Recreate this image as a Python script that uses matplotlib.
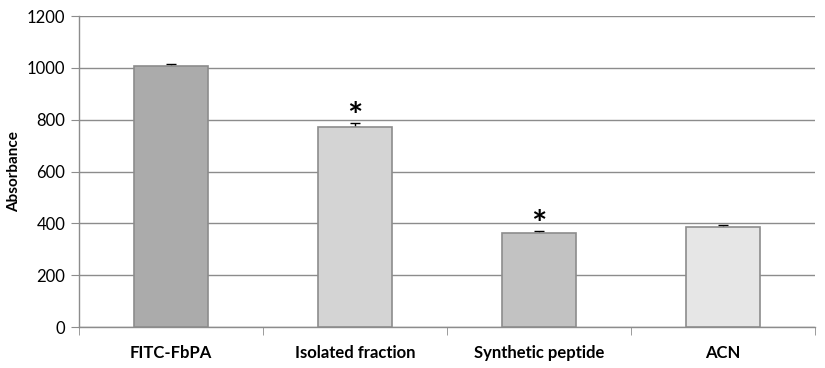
import matplotlib
matplotlib.use("Agg")
import matplotlib.pyplot as plt
import numpy as np

categories = ["FITC-FbPA", "Isolated fraction", "Synthetic peptide", "ACN"]
values = [1008, 772, 361, 385]
errors = [5, 15, 10, 10]
significant = [False, True, True, False]
colors = ["#ABABAB", "#D4D4D4", "#C2C2C2", "#E6E6E6"]
yticks = [0, 200, 400, 600, 800, 1000, 1200]

plt.rcParams['font.family'] = ['Lato', 'DejaVu Sans']

fig = plt.figure(figsize=(8.25, 3.68), dpi=100)
ax = fig.add_axes([0.0958, 0.1114, 0.8922, 0.8451])

x = np.arange(len(categories))
ax.bar(x, values, width=0.4, color=colors, edgecolor="#8C8C8C", linewidth=1.2, zorder=3)
ax.errorbar(x, values, yerr=[np.zeros(len(errors)), errors], fmt="none",
            ecolor="black", elinewidth=1, capsize=3.5, capthick=1, zorder=2.5)
for xi, v, e, s in zip(x, values, errors, significant):
    if s:
        ax.text(xi, v + e - 42, "*", ha="center", va="bottom", fontsize=26,
                fontweight="bold", color="black", zorder=5)

ax.set_xlim(-0.5, len(categories) - 0.5)
ax.set_ylim(0, 1200)
ax.set_yticks(yticks)
ax.set_yticklabels([str(t) for t in yticks], fontsize=12)
ax.yaxis.grid(True, color="#8C8C8C", linewidth=1)
ax.set_axisbelow(True)

ax.set_xticks(x)
ax.set_xticklabels(categories, fontsize=12, fontweight="bold")
ax.tick_params(axis="x", length=0, pad=13)
ax.set_xticks(np.arange(-0.5, len(categories)), minor=True)
ax.tick_params(axis="x", which="minor", length=6, color="#8C8C8C")
ax.tick_params(axis="y", length=6, color="#8C8C8C", pad=4)

ax.set_ylabel("Absorbance", fontsize=11, fontweight="bold")

for side in ["top", "right"]:
    ax.spines[side].set_visible(False)
for side in ["left", "bottom"]:
    ax.spines[side].set_color("#8C8C8C")
    ax.spines[side].set_linewidth(1)

fig.savefig("out.png", dpi=100)
